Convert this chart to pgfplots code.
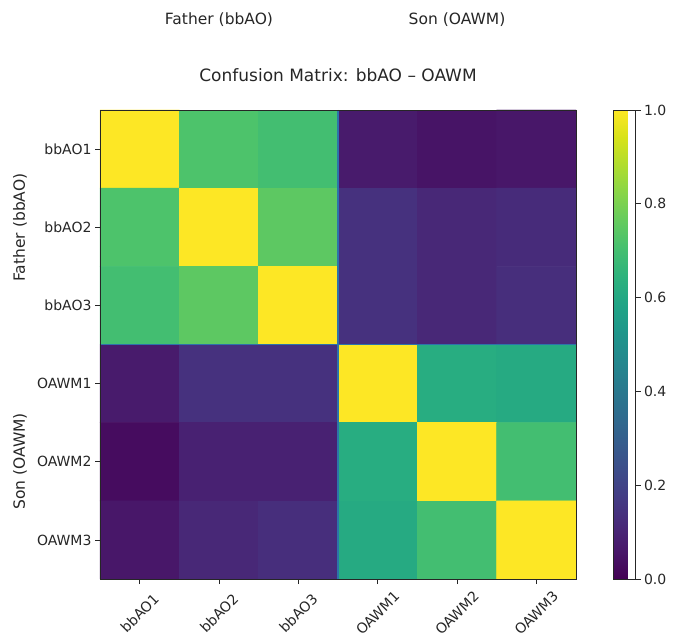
\documentclass[border=0pt]{standalone}
\usepackage{pgfplots}
\pgfplotsset{compat=1.18}
\usepackage{fontspec}
\setmainfont{DejaVu Sans}
\definecolor{txt}{HTML}{262626}
\definecolor{sep}{RGB}{45,115,170}
\begin{document}
\begin{tikzpicture}
\begin{axis}[
  name=ax,
  scale only axis,
  clip=false,
  width=476bp, height=469bp,
  xmin=-0.5, xmax=5.5, ymin=-0.5, ymax=5.5,
  y dir=reverse,
  enlargelimits=false,
  axis on top,
  axis line style={black!85, line width=0.6bp},
  colormap/viridis,
  point meta min=0, point meta max=1,
  xtick={0,...,5}, ytick={0,...,5},
  xticklabels={bbAO1,bbAO2,bbAO3,OAWM1,OAWM2,OAWM3},
  yticklabels={bbAO1,bbAO2,bbAO3,OAWM1,OAWM2,OAWM3},
  tick align=outside,
  major tick length=5bp,
  tick style={black!85, line width=0.6bp},
  xtick pos=bottom, ytick pos=left,
  tick label style={font=\fontsize{14bp}{16bp}\selectfont, text=txt},
  xticklabel style={anchor=center, yshift=-29bp, rotate=45},
  colorbar,
  colorbar style={
    at={(parent axis.north east)}, anchor=north west, xshift=29bp,
    width=22bp,
    ytick={0,0.2,...,1.0},
    ytick pos=right,
    yticklabel style={font=\fontsize{14bp}{16bp}\selectfont, text=txt,
      /pgf/number format/.cd, fixed, fixed zerofill, precision=1, assume math mode=true},
    tick align=outside, major tick length=5bp,
    tick style={black!85, line width=0.6bp},
    axis line style={black!85, line width=0.6bp},
  },
]
\addplot[matrix plot*, mesh/cols=6, point meta=explicit] table[meta=C] {
x y C
0 0 1.00
1 0 0.72
2 0 0.70
3 0 0.07
4 0 0.05
5 0 0.06
0 1 0.72
1 1 1.00
2 1 0.75
3 1 0.14
4 1 0.11
5 1 0.12
0 2 0.70
1 2 0.75
2 2 1.00
3 2 0.14
4 2 0.11
5 2 0.13
0 3 0.07
1 3 0.14
2 3 0.14
3 3 1.00
4 3 0.62
5 3 0.61
0 4 0.03
1 4 0.09
2 4 0.09
3 4 0.62
4 4 1.00
5 4 0.70
0 5 0.06
1 5 0.11
2 5 0.13
3 5 0.61
4 5 0.70
5 5 1.00
};
\addplot[sep, line width=1.4bp, no marks] coordinates {(2.5,-0.5) (2.5,5.5)};
\addplot[sep, line width=1.4bp, no marks] coordinates {(-0.5,2.5) (5.5,2.5)};
\end{axis}
\node[font=\fontsize{17bp}{20bp}\selectfont, text=txt] at ([yshift=35bp]ax.north) {Confusion Matrix: bbAO – OAWM};
\node[font=\fontsize{15.5bp}{18bp}\selectfont, text=txt] at ([xshift=-119bp,yshift=90bp]ax.north) {Father (bbAO)};
\node[font=\fontsize{15.5bp}{18bp}\selectfont, text=txt] at ([xshift=119bp,yshift=90bp]ax.north) {Son (OAWM)};
\node[font=\fontsize{15.5bp}{18bp}\selectfont, text=txt, rotate=90] at ([xshift=-80bp,yshift=117bp]ax.west) {Father (bbAO)};
\node[font=\fontsize{15.5bp}{18bp}\selectfont, text=txt, rotate=90] at ([xshift=-80bp,yshift=-117bp]ax.west) {Son (OAWM)};
\path ([xshift=-100bp,yshift=-60bp]ax.south west) rectangle ([xshift=98bp,yshift=110bp]ax.north east);
\end{tikzpicture}
\end{document}
